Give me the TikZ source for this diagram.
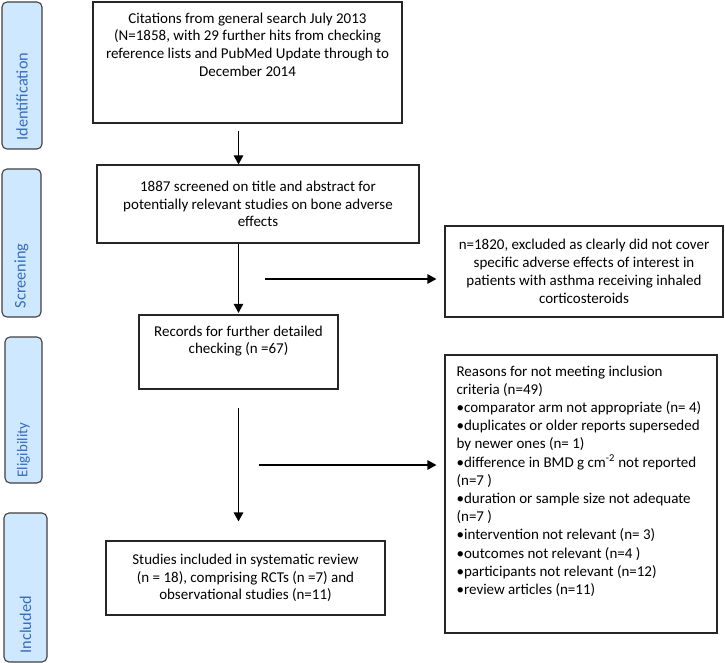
\documentclass[tikz,border=0pt]{standalone}
\usepackage{fontspec}
\setmainfont{Carlito}
\usepackage{xcolor}
\usepackage{tikz}
\usetikzlibrary{arrows.meta,positioning}
\definecolor{stagefill}{RGB}{206,232,255}
\definecolor{stageblue}{RGB}{55,108,190}
\tikzset{
	box/.style={draw=black!85, line width=1.2pt, inner sep=0pt},
	stage/.style={draw=black!75, fill=stagefill, rounded corners=5pt, line width=1.1pt, inner sep=0pt},
	stagetext/.style={rotate=90, anchor=west, text=stageblue, inner sep=0pt, font=\fontsize{16.3}{18}\selectfont},
	boxtext/.style={align=center, inner sep=0pt, font=\fontsize{15}{17.8}\selectfont},
	arrow/.style={line width=1.2pt, -{Triangle[length=9pt,width=9.5pt]}},
}

\begin{document}
\begin{tikzpicture}[x=1pt,y=-1pt]
			\useasboundingbox (0,0) rectangle (725,663);
			
			% Stage bars on the left:
			\node [stage, minimum width=40pt, minimum height=147pt] (idbar) at (22,75.5) {};
			\node [stage, minimum width=39pt, minimum height=148pt] (scrbar) at (21.5,243) {};
			\node [stage, minimum width=37pt, minimum height=146pt] (elibar) at (23.5,410) {};
			\node [stage, minimum width=43pt, minimum height=149pt] (incbar) at (25.5,587.5) {};
			\node [stagetext] (idtxt) at ([yshift=9pt]idbar.south) {Identification};
			\node [stagetext] (scrtxt) at ([yshift=9pt]scrbar.south) {Screening};
			\node [stagetext, font=\fontsize{15}{17}\selectfont] (elitxt) at ([yshift=6pt]elibar.south) {Eligibility};
			\node [stagetext] (inctxt) at ([yshift=9pt]incbar.south) {Included};
			
			% Main boxes:
			\node [box, minimum width=309pt, minimum height=121pt] (cite) at (247.5,62.5) {};
			\node [boxtext, anchor=north] (citetxt) at ([yshift=-11pt]cite.north) {Citations from general search July 2013\\(N=1858, with 29 further hits from checking\\reference lists and PubMed Update through to\\December 2014};
			
			\node [box, boxtext, minimum width=322pt, minimum height=78pt] (screened) at (258,204) {1887 screened on title and abstract for\\potentially relevant studies on bone adverse\\effects};
			
			\node [box, boxtext, minimum width=278pt, minimum height=91pt] (excl) at (584,271.5) {n=1820, excluded as clearly did not cover\\specific adverse effects of interest in\\patients with asthma receiving inhaled\\corticosteroids};
			
			\node [box, minimum width=199pt, minimum height=74pt] (records) at (238.5,352) {};
			\node [boxtext, anchor=north] (rectxt) at ([yshift=-11pt]records.north) {Records for further detailed\\checking (n =67)};
			
			\node [box, minimum width=272pt, minimum height=278pt] (reasons) at (581,494) {};
			\node [boxtext, align=left, anchor=north west, font=\fontsize{15}{18.2}\selectfont] (reatxt) at ([xshift=12pt,yshift=-11pt]reasons.north west) {Reasons for not meeting inclusion\\criteria (n=49)\\\textbullet comparator arm not appropriate (n= 4)\\\textbullet duplicates or older reports superseded\\by newer ones (n= 1)\\\textbullet difference in BMD g cm\textsuperscript{-2} not reported\\(n=7 )\\\textbullet duration or sample size not adequate\\(n=7 )\\\textbullet intervention not relevant (n= 3)\\\textbullet outcomes not relevant (n=4 )\\\textbullet participants not relevant (n=12)\\\textbullet review articles (n=11)};
			
			\node [box, boxtext, minimum width=279pt, minimum height=74pt] (incl) at (245.5,578) {Studies included in systematic review\\(n = 18), comprising RCTs (n =7) and\\observational studies (n=11)};
			
			% Free ends of the side arrows:
			\coordinate (splitA) at (265,279);
			\coordinate (splitB) at (259,465);
			
			% Arrows:
			\draw [arrow, shorten <=7pt] (cite.south -| records) -- (screened.north -| records);
			\draw [arrow, shorten >=1.5pt] (screened.south -| records) -- (records.north);
			\draw [arrow, shorten <=18pt, shorten >=19pt] (records.south) -- (incl.north -| records);
			\draw [arrow, shorten >=8pt] (splitA) -- (splitA -| excl.west);
			\draw [arrow, shorten >=8pt] (splitB) -- (splitB -| reasons.west);
\end{tikzpicture}
\end{document}
